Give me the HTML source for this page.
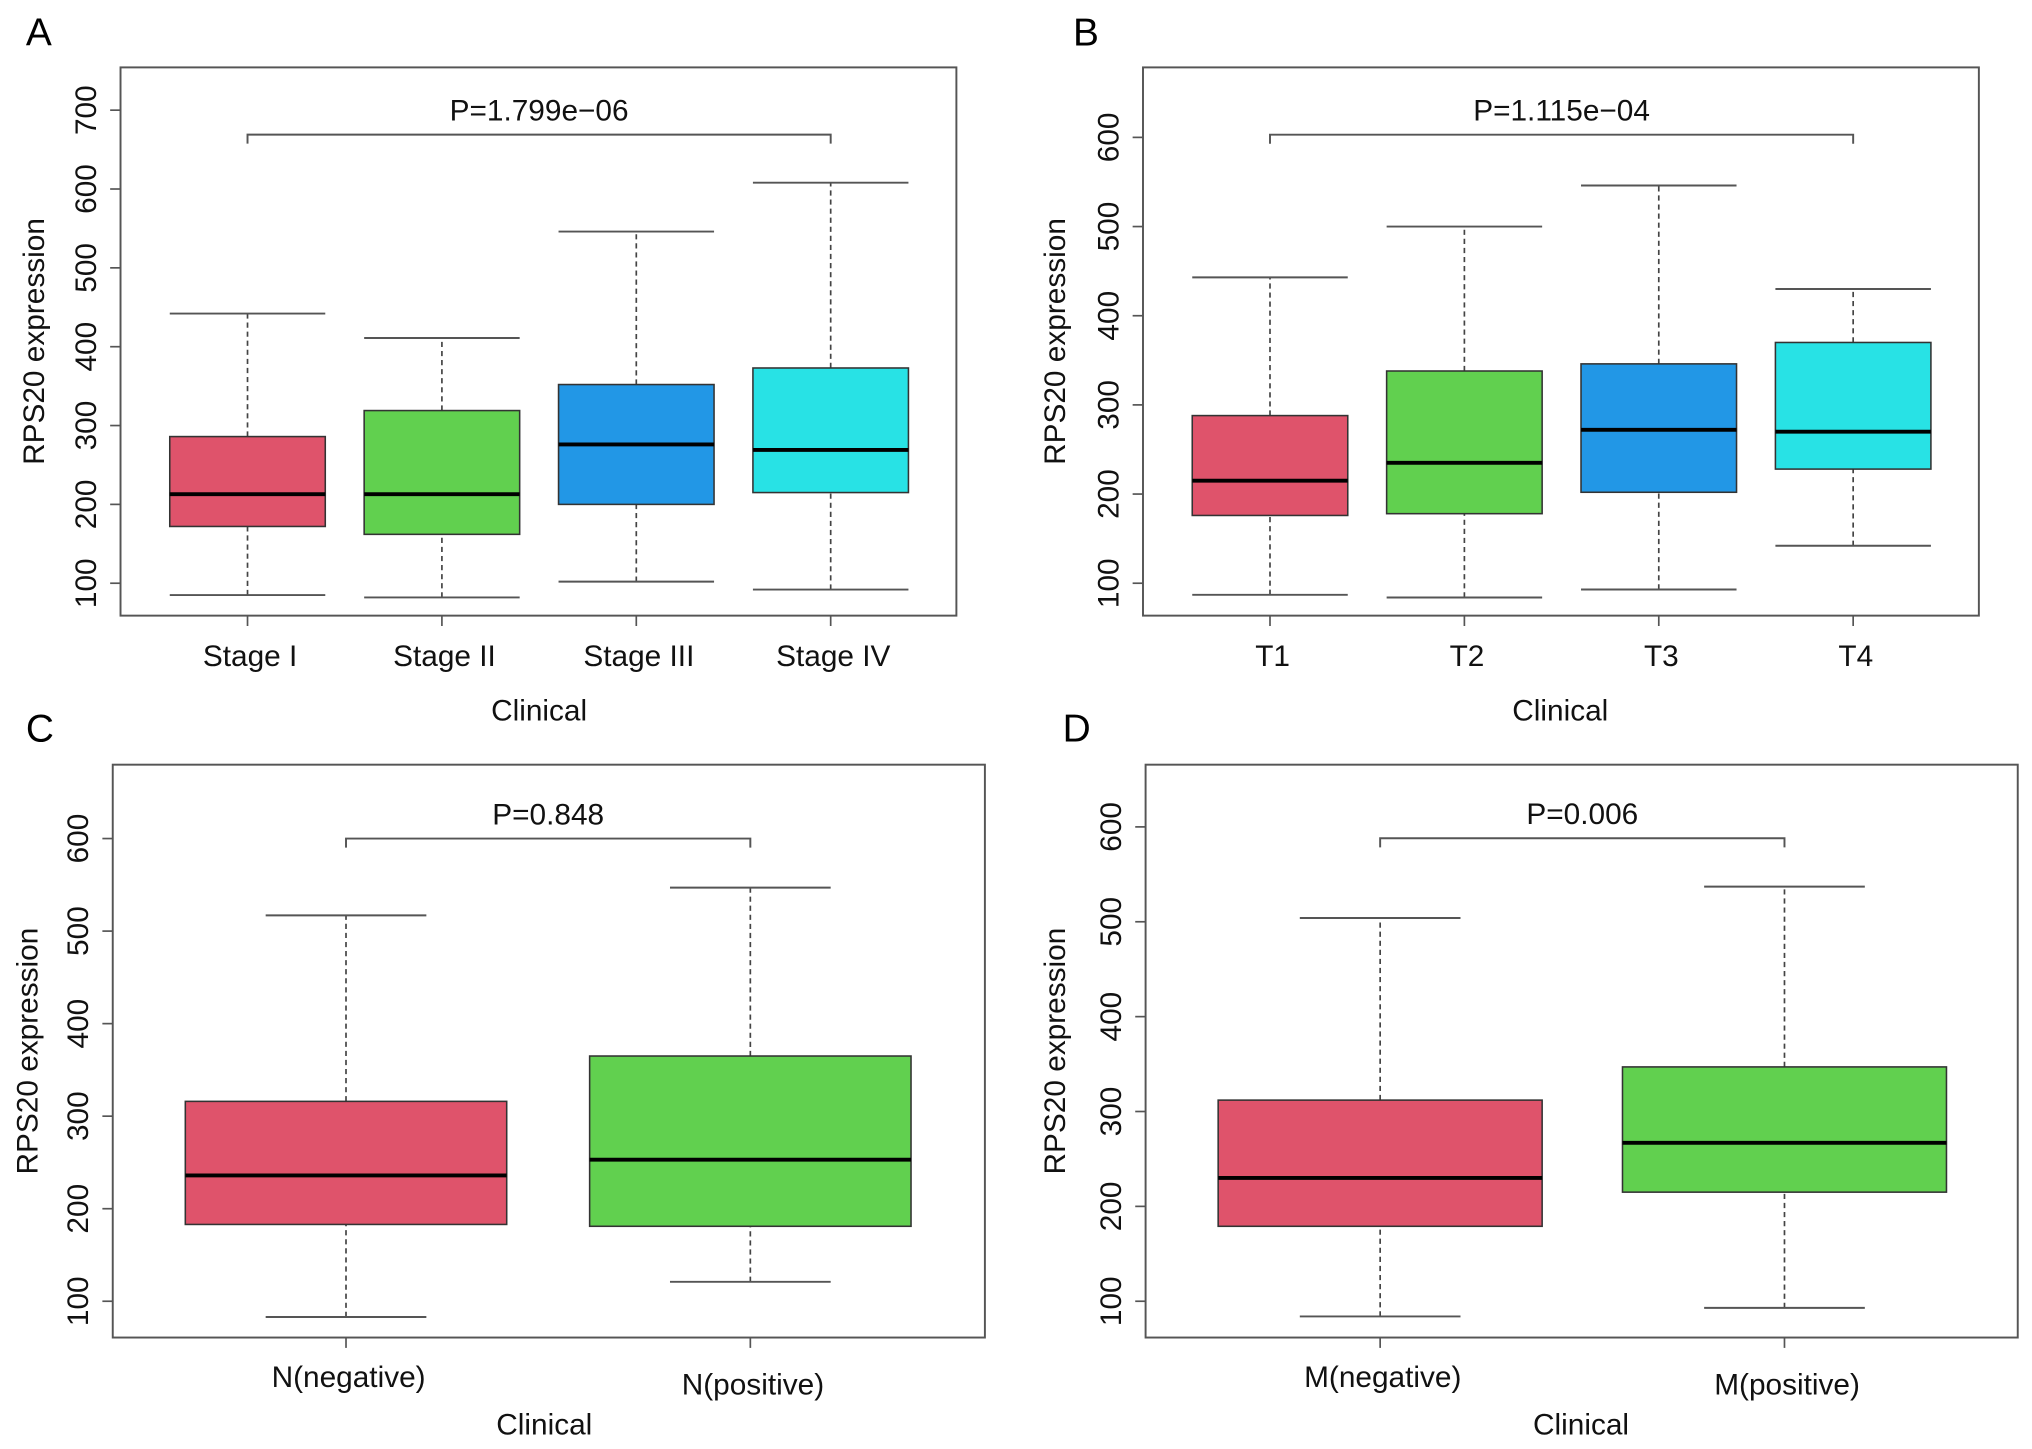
<!DOCTYPE html>
<html><head><meta charset="utf-8"><style>
html,body{margin:0;padding:0;background:#fff}
svg{display:block;font-family:"Liberation Sans",sans-serif}
</style></head><body>
<svg id="fig" width="2032" height="1449" viewBox="0 0 1568 1118" preserveAspectRatio="none" xmlns="http://www.w3.org/2000/svg"></svg>
<script>
// Panel A data
const catsA = ["Stage I","Stage II","Stage III","Stage IV"];
const lowA = [85,82,102,92];
const q1A = [172,162,200,215];
const medA = [213,213,276,269];
const q3A = [286,319,352,373];
const highA = [442,411,546,608];
const ticksA = [100,200,300,400,500,600,700];
// Panel B data
const catsB = ["T1","T2","T3","T4"];
const lowB = [87,84,93,142];
const q1B = [176,178,202,228];
const medB = [215,235,272,270];
const q3B = [288,338,346,370];
const highB = [443,500,546,430];
const ticksB = [100,200,300,400,500,600];
// Panel C data
const catsC = ["N(negative)","N(positive)"];
const lowC = [83,121];
const q1C = [183,181];
const medC = [236,253];
const q3C = [316,365];
const highC = [517,547];
const ticksC = [100,200,300,400,500,600];
// Panel D data
const catsD = ["M(negative)","M(positive)"];
const lowD = [84,93];
const q1D = [179,215];
const medD = [230,267];
const q3D = [312,347];
const highD = [504,537];
const ticksD = [100,200,300,400,500,600];
const pvals = ["P=1.799e\u221206","P=1.115e\u221204","P=0.848","P=0.006"];

const colors = ["#DF536B","#61D04F","#2297E6","#28E2E5"];
const NS="http://www.w3.org/2000/svg";
const svg=document.getElementById('fig');
function mk(tag,attrs,parent,text){const e=document.createElementNS(NS,tag);for(const k in attrs)e.setAttribute(k,attrs[k]);if(text!==undefined)e.textContent=text;(parent||svg).appendChild(e);return e;}

const panels=[
 {id:"a",letter:"A",lx:20,ly:35,x0:93,x1:738,y0:52,y1:475,v0:100,p0:450,v1:700,p1:85,cx0:191,step:150,hw:60,cap:60,cats:catsA,low:lowA,q1:q1A,med:medA,q3:q3A,high:highA,ticks:ticksA,p:pvals[0],by:669,labY:[514,514,514,514],clinX:416,clinY:556,ytx:25},
 {id:"b",letter:"B",lx:828,ly:35,x0:882,x1:1527,y0:52,y1:475,v0:100,p0:450,v1:600,p1:106,cx0:980,step:150,hw:60,cap:60,cats:catsB,low:lowB,q1:q1B,med:medB,q3:q3B,high:highB,ticks:ticksB,p:pvals[1],by:603,labY:[514,514,514,514],clinX:1204,clinY:556,ytx:813},
 {id:"c",letter:"C",lx:20,ly:572,x0:87,x1:760,y0:590,y1:1032,v0:100,p0:1004,v1:600,p1:647,cx0:267,step:312,hw:124,cap:62,cats:catsC,low:lowC,q1:q1C,med:medC,q3:q3C,high:highC,ticks:ticksC,p:pvals[2],by:600,labY:[1070,1076],clinX:420,clinY:1107,ytx:20},
 {id:"d",letter:"D",lx:820,ly:572,x0:884,x1:1557,y0:590,y1:1032,v0:100,p0:1004,v1:600,p1:638,cx0:1065,step:312,hw:125,cap:62,cats:catsD,low:lowD,q1:q1D,med:medD,q3:q3D,high:highD,ticks:ticksD,p:pvals[3],by:588,labY:[1070,1076],clinX:1220,clinY:1107,ytx:813}
];

panels.forEach(P=>{
 const g=mk('g',{});
 
 
 const Y=v=>P.p0+(v-P.v0)*(P.p1-P.p0)/(P.v1-P.v0);
 const X=i=>P.cx0+i*P.step;
 const lt=mk('text',{x:P.lx,y:P.ly,'font-size':30,fill:'#000'},g,P.letter);
 
 
 P.cats.forEach((c,i)=>{
  const bg=mk('g',{},g);
  
  
  const x=X(i),cap=P.cap;
  mk('line',{x1:x,x2:x,y1:Y(P.low[i]),y2:Y(P.q1[i]),stroke:'#444','stroke-width':1.3,'stroke-dasharray':'4,3'},bg);
  mk('line',{x1:x,x2:x,y1:Y(P.q3[i]),y2:Y(P.high[i]),stroke:'#444','stroke-width':1.3,'stroke-dasharray':'4,3'},bg);
  mk('line',{x1:x-cap,x2:x+cap,y1:Y(P.low[i]),y2:Y(P.low[i]),stroke:'#555','stroke-width':1.5},bg);
  mk('line',{x1:x-cap,x2:x+cap,y1:Y(P.high[i]),y2:Y(P.high[i]),stroke:'#555','stroke-width':1.5},bg);
  mk('rect',{x:x-P.hw,y:Y(P.q3[i]),width:2*P.hw,height:Y(P.q1[i])-Y(P.q3[i]),fill:colors[i],stroke:'#333','stroke-width':1.2},bg);
  mk('line',{x1:x-P.hw,x2:x+P.hw,y1:Y(P.med[i]),y2:Y(P.med[i]),stroke:'#000','stroke-width':3},bg);
  mk('line',{x1:x,x2:x,y1:P.y1,y2:P.y1+8,stroke:'#555','stroke-width':1.3},g);
  const tl=mk('text',{x:x+2,y:P.labY[i],'font-size':23,'text-anchor':'middle',fill:'#111'},g,c);
  
  
 });
 const fr=mk('rect',{x:P.x0,y:P.y0,width:P.x1-P.x0,height:P.y1-P.y0,fill:'none',stroke:'#555','stroke-width':1.5},g);
 
 
 P.ticks.forEach(t=>{
  const y=Y(t);
  mk('line',{x1:P.x0-8,x2:P.x0,y1:y,y2:y,stroke:'#555','stroke-width':1.3},g);
  const tx=mk('text',{x:0,y:0,'font-size':23,'text-anchor':'middle',fill:'#111',transform:`translate(${P.x0-19},${y}) rotate(-90)`},g,String(t));
  
  
 });
 const yt=mk('text',{x:0,y:0,'font-size':23,'text-anchor':'middle',fill:'#111',transform:`translate(${P.ytx+9},${(P.y0+P.y1)/2}) rotate(-90)`},g,'RPS20 expression');
 
 
 const xt=mk('text',{x:P.clinX,y:P.clinY,'font-size':23,'text-anchor':'middle',fill:'#111'},g,'Clinical');
 
 
 const xa=X(0),xb=X(P.cats.length-1),yb=Y(P.by);
 const br=mk('path',{d:`M${xa},${yb+7}V${yb}H${xb}V${yb+7}`,fill:'none',stroke:'#555','stroke-width':1.5},g);
 
 
 const pt=mk('text',{x:(xa+xb)/2,y:yb-11,'font-size':23,'text-anchor':'middle',fill:'#111'},g,P.p);
 
 
});
</script>
</body></html>
